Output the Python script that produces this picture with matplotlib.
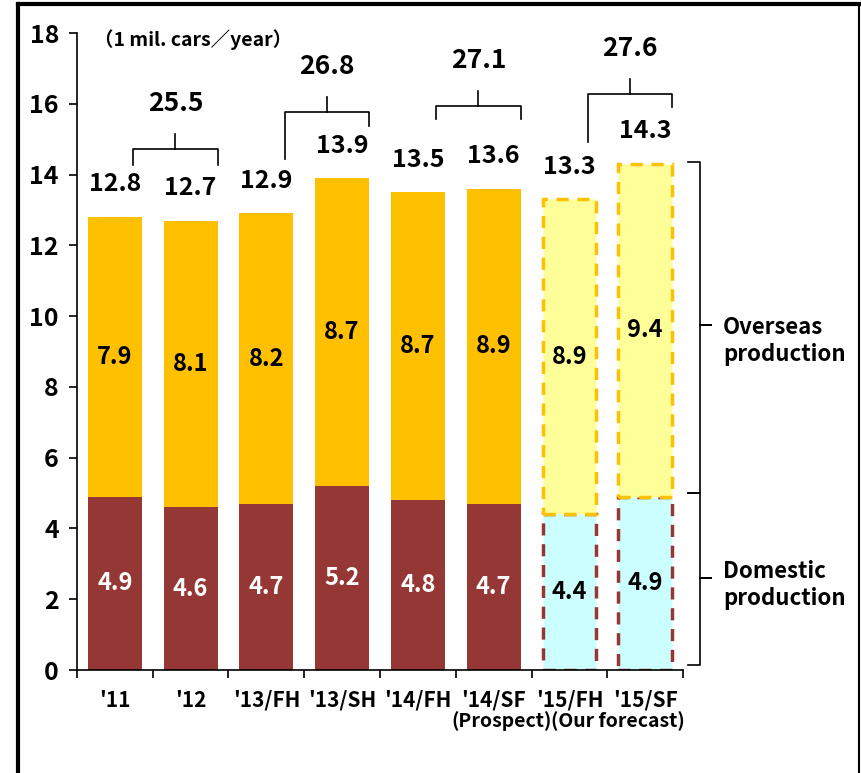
import matplotlib.pyplot as plt
from matplotlib.lines import Line2D

plt.rcParams['font.family'] = ['Noto Sans CJK JP', 'DejaVu Sans']
plt.rcParams['font.weight'] = 'bold'

categories = ["'11", "'12", "'13/FH", "'13/SH", "'14/FH", "'14/SF", "'15/FH", "'15/SF"]
domestic = [4.9, 4.6, 4.7, 5.2, 4.8, 4.7, 4.4, 4.9]
overseas = [7.9, 8.1, 8.2, 8.7, 8.7, 8.9, 8.9, 9.4]
totals = [12.8, 12.7, 12.9, 13.9, 13.5, 13.6, 13.3, 14.3]
forecast = [False, False, False, False, False, False, True, True]
group_totals = [25.5, 26.8, 27.1, 27.6]
group_pairs = [(0, 1), (2, 3), (4, 5), (6, 7)]

DOM = '#953735'
OVS = '#FFC000'
DOM_F = '#CCFFFF'
OVS_F = '#FFFF99'

fig = plt.figure(figsize=(8.61, 7.73), dpi=100)
ax = fig.add_axes([0.0894, 0.1332, 0.7039, 0.8241])

x = list(range(len(categories)))
w = 0.71
for i in x:
    if forecast[i]:
        ax.bar(i, domestic[i], w, color=DOM_F, edgecolor=DOM, linewidth=2.5,
               linestyle=(0, (3.5, 2.5)), zorder=2)
        ax.bar(i, overseas[i], w, bottom=domestic[i], color=OVS_F, edgecolor=OVS,
               linewidth=2.5, linestyle=(0, (3.5, 2.5)), zorder=3)
        dcol = 'black'
    else:
        ax.bar(i, domestic[i], w, color=DOM, zorder=2)
        ax.bar(i, overseas[i], w, bottom=domestic[i], color=OVS, zorder=2)
        dcol = 'white'
    ax.text(i, domestic[i] / 2, f'{domestic[i]:.1f}', ha='center', va='center',
            fontsize=17, color=dcol, zorder=4)
    ax.text(i, domestic[i] + overseas[i] / 2, f'{overseas[i]:.1f}', ha='center',
            va='center', fontsize=17, color='black', zorder=4)
    ax.text(i, totals[i] + 0.92, f'{totals[i]:.1f}', ha='center', va='center',
            fontsize=18, color='black')

# brackets joining pairs of half-years
bracket_y = [14.72, 15.76, 15.93, 16.27]
left_leg = [14.27, 14.44, 15.56, 14.92]
right_leg = [14.27, 15.37, 15.56, 15.9]
for k, (a, b) in enumerate(group_pairs):
    xl, xr = a + 0.24, b + 0.36
    xm = (xl + xr) / 2
    yb = bracket_y[k]
    ax.plot([xl, xl, xr, xr], [left_leg[k], yb, yb, right_leg[k]],
            color='black', lw=1.2, clip_on=False)
    ax.plot([xm, xm], [yb, yb + 0.42], color='black', lw=1.2, clip_on=False)
    ax.text(xm, yb + 1.3, f'{group_totals[k]:.1f}', ha='center', va='center',
            fontsize=19)

# curly braces on the right
def brace(top, bot, mid):
    x0, x1, x2 = 7.57, 7.72, 7.87
    ax.plot([x0, x1, x1, x2, x1, x1, x0], [top, top, mid, mid, mid, bot, bot],
            color='black', lw=1.2, clip_on=False)

brace(14.35, 5.0, 9.75)
brace(5.0, 0.14, 2.6)
ax.text(8.03, 9.3, 'Overseas\nproduction', ha='left', va='center',
        fontsize=16, linespacing=1.25)
ax.text(8.03, 2.4, 'Domestic\nproduction', ha='left', va='center',
        fontsize=16, linespacing=1.25)

ax.text(-0.27, 17.8, '（1 mil. cars／year）', ha='left', va='center', fontsize=14)

ax.set_xlim(-0.5, 7.5)
ax.set_ylim(0, 18)
ax.set_yticks(range(0, 19, 2))
ax.tick_params(axis='y', labelsize=18, length=6, width=1.2, direction='out', pad=7)
ax.set_xticks([i - 0.5 for i in range(9)])
ax.set_xticklabels([])
ax.tick_params(axis='x', length=6, width=1.2, direction='out')
for i, c in enumerate(categories):
    ax.text(i, -0.85, c, ha='center', va='center', fontsize=15)
ax.text(5.1, -1.45, '(Prospect)', ha='center', va='center', fontsize=14)
ax.text(7.52, -1.45, '(Our forecast)', ha='right', va='center', fontsize=14)

for s in ['top', 'right']:
    ax.spines[s].set_visible(False)
ax.spines['left'].set_linewidth(1.2)
ax.spines['bottom'].set_linewidth(1.2)

# frame around the picture
fig.add_artist(Line2D([0.0209, 0.0209], [0, 0.9948], color='black', lw=3,
                      transform=fig.transFigure))
fig.add_artist(Line2D([0.0209, 0.9977], [0.9948, 0.9948], color='black', lw=3,
                      transform=fig.transFigure))
fig.add_artist(Line2D([0.9977, 0.9977], [0, 0.9948], color='black', lw=1.5,
                      transform=fig.transFigure))

fig.savefig('out.png')
